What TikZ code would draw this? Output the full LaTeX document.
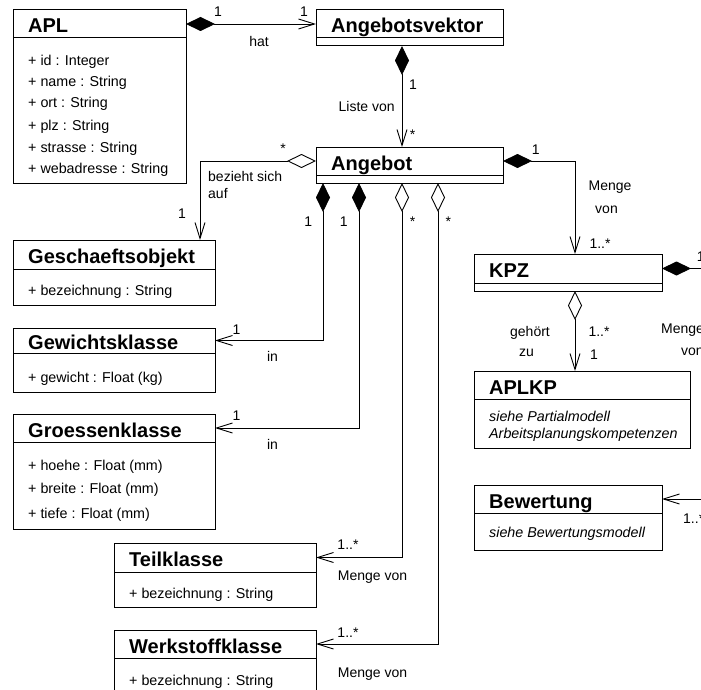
\documentclass[tikz,border=0pt]{standalone}
\usepackage{fontspec}
\setmainfont{Liberation Sans}
\usetikzlibrary{arrows.meta}

\tikzset{
  x=1pt, y=-1pt,
  classframe/.style={draw, line width=1pt, fill=white, anchor=north west,
    inner sep=0pt, outer sep=0pt},
  classtitle/.style={anchor=west, inner sep=0pt,
    font=\fontsize{20}{24}\selectfont\bfseries, text height=18pt, text depth=0pt},
  attr/.style={anchor=west, inner sep=0pt,
    font=\fontsize{14.3}{17}\selectfont, text height=10.2pt, text depth=0pt},
  note/.style={attr, font=\fontsize{14.3}{17}\selectfont\itshape},
  lab/.style={inner sep=0pt, anchor=base, font=\fontsize{14}{17}\selectfont},
  labw/.style={lab, anchor=base west},
  conn/.style={line width=0.9pt},
  comp/.style={conn, {Diamond[length=29pt,width=14pt]}-{Straight Barb[length=16pt,width=10pt]}},
  aggr/.style={conn, {Diamond[open,fill=white,length=29pt,width=14pt]}-{Straight Barb[length=16pt,width=10pt]}},
  compend/.style={conn, {Diamond[length=29pt,width=14pt]}-},
  assoc/.style={conn, -{Straight Barb[length=16pt,width=10pt]}},
}

% UML class: name, x, y, width, height, title height, title
\newcommand\umlclass[7]{%
  \node[classframe, minimum width=#4pt, minimum height=#5pt] (#1) at (#2,#3) {};
  \node[classframe, minimum width=#4pt, minimum height=#6pt] (#1T) at (#2,#3) {};
  \node[classtitle] (#1L) at ([xshift=15pt]#1T.west) {#7};
}

\begin{document}
\begin{tikzpicture}
\useasboundingbox (0,0) rectangle (701,690);
\clip (0,0) rectangle (701,690);

% classes
\umlclass{apl}{13}{10}{173}{173}{28}{APL}
\umlclass{avek}{316}{10}{187}{36}{28}{Angebotsvektor}
\umlclass{angebot}{316}{147}{187}{36}{28}{Angebot}
\umlclass{geschaeft}{13}{240}{202}{65}{29}{Geschaeftsobjekt}
\umlclass{gewicht}{13}{328}{202}{64}{25}{Gewichtsklasse}
\umlclass{groessen}{13}{414}{202}{115}{28}{Groessenklasse}
\umlclass{teil}{114}{543}{202}{64}{29}{Teilklasse}
\umlclass{werk}{114}{630}{202}{80}{28}{Werkstoffklasse}
\umlclass{kpz}{474}{254}{188}{37}{29}{KPZ}
\umlclass{aplkp}{474}{371}{216}{77}{28}{APLKP}
\umlclass{bewertung}{474}{485}{188}{65}{28}{Bewertung}

% attributes
\node[attr] (aplA1) at (28,60) {+ id : Integer};
\node[attr] (aplA2) at (28,81) {+ name : String};
\node[attr] (aplA3) at (28,102) {+ ort : String};
\node[attr] (aplA4) at (28,125) {+ plz : String};
\node[attr] (aplA5) at (28,147) {+ strasse : String};
\node[attr] (aplA6) at (28,168) {+ webadresse : String};
\node[attr] (geschaeftA1) at (28,290) {+ bezeichnung : String};
\node[attr] (gewichtA1) at (28,377) {+ gewicht : Float (kg)};
\node[attr] (groessenA1) at (28,465) {+ hoehe : Float (mm)};
\node[attr] (groessenA2) at (28,488) {+ breite : Float (mm)};
\node[attr] (groessenA3) at (28,513) {+ tiefe : Float (mm)};
\node[attr] (teilA1) at (129,593) {+ bezeichnung : String};
\node[attr] (werkA1) at (129,680) {+ bezeichnung : String};
\node[note] (aplkpN1) at (489,416) {siehe Partialmodell};
\node[note] (aplkpN2) at (489,433) {Arbeitsplanungskompetenzen};
\node[note] (bewertungN1) at (489,532) {siehe Bewertungsmodell};

% associations
\draw[comp] (aplT.east) -- (avekT.west);
\draw[comp] ([xshift=-7.5pt]avek.south) -- ([xshift=-7.5pt]angebot.north);
\draw[comp] (angebotT.east) -| ([xshift=7pt]kpz.north);
\draw[aggr] (angebotT.west) -| ([xshift=-15pt]geschaeft.north east);
\draw[comp] ([xshift=7pt]angebot.south west) |- (gewichtT.east);
\draw[comp] ([xshift=43pt]angebot.south west) |- (groessenT.east);
\draw[aggr] ([xshift=86pt]angebot.south west) |- (teilT.east);
\draw[aggr] ([xshift=122pt]angebot.south west) |- (werkT.east);
\draw[aggr] ([xshift=7pt]kpz.south) -- ([xshift=7pt]kpz.south |- aplkp.north);
\coordinate (kpzOut) at ([xshift=80pt]kpzT.east);
\draw[compend] (kpzT.east) -- (kpzOut);
\coordinate (bewIn) at ([xshift=80pt]bewertungT.east);
\draw[assoc] (bewIn) -- (bewertungT.east);

% association labels
\node[lab] (m1) at (218,16.7) {1};
\node[lab] (m2) at (304,16.7) {1};
\node[lab] (hatL) at (259,46.7) {hat};
\node[lab] (m3) at (413,89.3) {1};
\node[lab] (listeL) at (366.7,111.7) {Liste von};
\node[lab] (m4) at (412.5,139.5) {*};
\node[lab] (m5) at (535.7,154.3) {1};
\node[lab] (mengeA) at (610,190) {Menge};
\node[lab] (vonA) at (606.5,213) {von};
\node[lab] (m6) at (600,248) {1..*};
\node[lab] (m7) at (283,153.5) {*};
\node[labw] (beziehtL) at (208,181) {bezieht sich};
\node[labw] (aufL) at (208,198) {auf};
\node[lab] (m8) at (182,218.3) {1};
\node[lab] (m9) at (308.3,226) {1};
\node[lab] (m10) at (343.8,226) {1};
\node[lab] (m11) at (412.7,226) {*};
\node[lab] (m12) at (448.3,226) {*};
\node[lab] (m13) at (236.5,334) {1};
\node[lab] (inA) at (272.5,361.7) {in};
\node[lab] (m14) at (236.5,420.7) {1};
\node[lab] (inB) at (272.5,449.3) {in};
\node[lab] (m15) at (348,549.3) {1..*};
\node[lab] (mengeB) at (372.5,580) {Menge von};
\node[lab] (m16) at (348,637.3) {1..*};
\node[lab] (mengeC) at (372.5,677) {Menge von};
\node[lab] (gehoertL) at (530,336) {gehört};
\node[lab] (zuL) at (526.5,356.7) {zu};
\node[lab] (m17) at (599,336) {1..*};
\node[lab] (m18) at (594,359.3) {1};
\node[labw] (m19) at (696.7,261.7) {1};
\node[labw] (mengeD) at (661,333.5) {Menge};
\node[labw] (vonD) at (681,355) {von};
\node[labw] (m20) at (683,523.3) {1..*};
\end{tikzpicture}
\end{document}
